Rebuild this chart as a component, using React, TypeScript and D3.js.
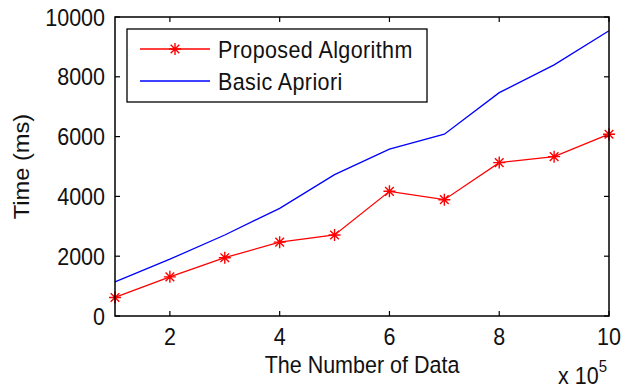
import React, { useRef, useEffect } from 'react';
import * as d3 from 'd3';

// data
const dataSizes = [1, 2, 3, 4, 5, 6, 7, 8, 9, 10]; // x 10^5
const proposedTimes = [620, 1310, 1950, 2470, 2710, 4170, 3890, 5130, 5330, 6080];
const basicTimes = [1140, 1900, 2710, 3600, 4730, 5580, 6080, 7470, 8400, 9540];
const xTicks = [2, 4, 6, 8, 10];
const yTicks = [0, 2000, 4000, 6000, 8000, 10000];
const seriesNames = ['Proposed Algorithm', 'Basic Apriori'];

function App() {
  const chartRef = useRef<SVGSVGElement>(null);
  const width = 621;
  const height = 389;
  const margin = { top: 17, right: 12, bottom: 73, left: 115 };

  useEffect(() => {
    const svg = d3.select(chartRef.current);
    svg.selectAll('*').remove();

    const innerWidth = width - margin.left - margin.right;
    const innerHeight = height - margin.top - margin.bottom;

    const xScale = d3.scaleLinear().domain([1, 10]).range([0, innerWidth]);
    const yScale = d3.scaleLinear().domain([0, 10000]).range([innerHeight, 0]);

    const g = svg.append('g')
      .attr('transform', `translate(${margin.left}, ${margin.top})`)
      .style('font-family', '"Liberation Sans", Arial, sans-serif')
      .style('font-size', '21.5px')
      .attr('fill', '#111');

    // the picture's text is a bit taller than plain Arial, so stretch it
    const stretch = 1.1;
    const label = (sel: any, x: number, y: number, str: string, anchor = 'start', rot = 0) =>
      sel.append('text')
        .attr('transform', `translate(${x}, ${y}) scale(1, ${stretch})${rot ? ` rotate(${rot})` : ''}`)
        .attr('text-anchor', anchor)
        .text(str);

    // ticks inside the box on all four sides
    const tickLen = 5;
    xTicks.forEach((t) => {
      const x = xScale(t);
      g.append('line').attr('x1', x).attr('x2', x).attr('y1', innerHeight).attr('y2', innerHeight - tickLen)
        .attr('stroke', '#000').attr('stroke-width', 1.2);
      g.append('line').attr('x1', x).attr('x2', x).attr('y1', 0).attr('y2', tickLen)
        .attr('stroke', '#000').attr('stroke-width', 1.2);
      label(g, x, innerHeight + 29, String(t), 'middle');
    });
    yTicks.forEach((t) => {
      const y = yScale(t);
      g.append('line').attr('x1', 0).attr('x2', tickLen).attr('y1', y).attr('y2', y)
        .attr('stroke', '#000').attr('stroke-width', 1.2);
      g.append('line').attr('x1', innerWidth).attr('x2', innerWidth - tickLen).attr('y1', y).attr('y2', y)
        .attr('stroke', '#000').attr('stroke-width', 1.2);
      label(g, -10, y + 8.5, String(t), 'end');
    });

    // series
    const line = d3.line<number>()
      .x((d, i) => xScale(dataSizes[i]))
      .y((d) => yScale(d));

    g.append('path').datum(basicTimes).attr('d', line)
      .attr('fill', 'none').attr('stroke', '#0000ff').attr('stroke-width', 1.3);
    g.append('path').datum(proposedTimes).attr('d', line)
      .attr('fill', 'none').attr('stroke', '#ff0000').attr('stroke-width', 1.3);

    const star = (sel: any, cx: number, cy: number) => {
      const r = 6;
      const d = r * 0.72;
      sel.append('path')
        .attr('d', `M${cx - r},${cy}H${cx + r}M${cx},${cy - r}V${cy + r}` +
          `M${cx - d},${cy - d}L${cx + d},${cy + d}M${cx - d},${cy + d}L${cx + d},${cy - d}`)
        .attr('stroke', '#ff0000').attr('stroke-width', 1.4).attr('fill', 'none');
    };
    proposedTimes.forEach((v, i) => star(g, xScale(dataSizes[i]), yScale(v)));

    // axes box
    g.append('rect').attr('x', 0).attr('y', 0).attr('width', innerWidth).attr('height', innerHeight)
      .attr('fill', 'none').attr('stroke', '#000').attr('stroke-width', 1.5);

    // axis labels
    label(g, innerWidth / 2, innerHeight + 57, 'The Number of Data', 'middle');
    label(g, -86, yScale(5000), 'Time (ms)', 'middle', -90);
    const mult = g.append('text')
      .attr('transform', `translate(443, ${innerHeight + 68}) scale(1, ${stretch})`);
    mult.append('tspan').text('x 10');
    mult.append('tspan').attr('dy', -11).style('font-size', '15px').text('5');

    // legend
    const lg = g.append('g').attr('transform', 'translate(12, 12)');
    lg.append('rect').attr('x', 0).attr('y', 0).attr('width', 300).attr('height', 73)
      .attr('fill', '#fff').attr('stroke', '#000').attr('stroke-width', 1.3);
    const colors = ['#ff0000', '#0000ff'];
    seriesNames.forEach((name, i) => {
      const y = 20 + i * 32;
      lg.append('line').attr('x1', 13).attr('x2', 83).attr('y1', y).attr('y2', y)
        .attr('stroke', colors[i]).attr('stroke-width', 1.3);
      if (i === 0) star(lg, 48, y);
      label(lg, 91, y + 8.5, name).style('letter-spacing', '0.4px');
    });
  }, []);

  return (
    <div style={{ position: 'absolute', left: 0, top: 0, background: '#fff' }}>
      <svg ref={chartRef} width={width} height={height} style={{ display: 'block' }}></svg>
    </div>
  );
}

export default App;
